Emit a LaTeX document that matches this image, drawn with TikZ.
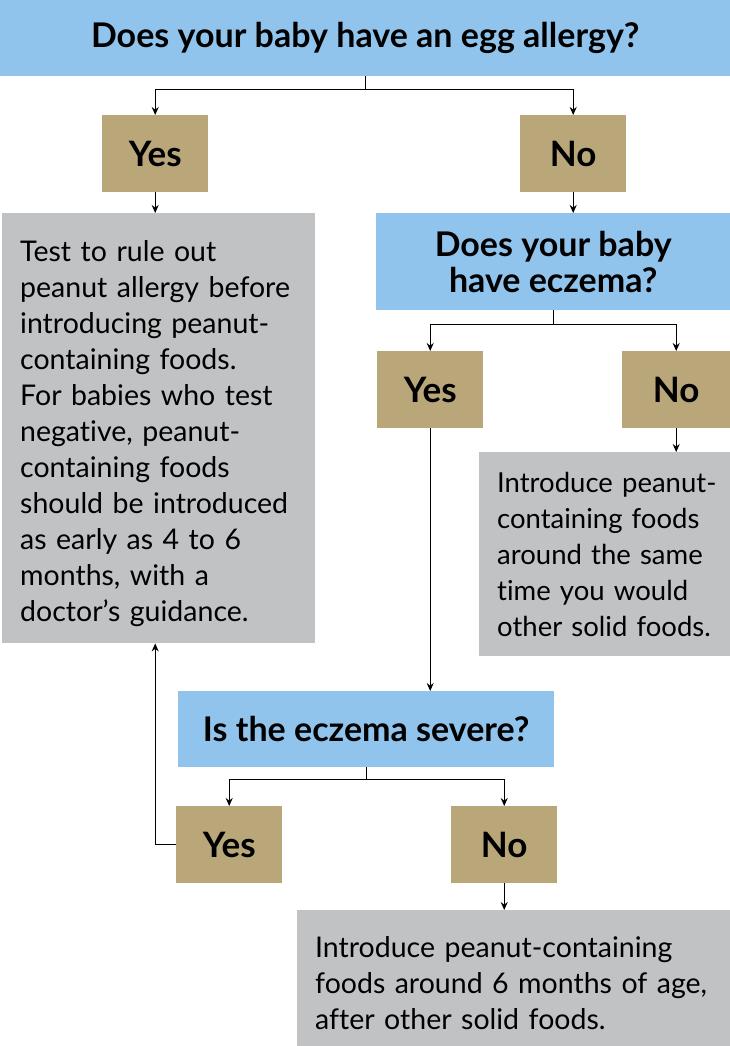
\documentclass[tikz,border=0pt]{standalone}
\usepackage{fontspec}
\setmainfont{Lato}[Ligatures=NoCommon]
\usetikzlibrary{arrows.meta}
\definecolor{askblue}{RGB}{144,196,236}
\definecolor{answertan}{RGB}{185,167,122}
\definecolor{adviceGrey}{RGB}{193,194,196}

\begin{document}
\begin{tikzpicture}[x=1pt,y=-1pt,
    question/.style={fill=askblue, inner sep=0pt, align=center,
        font=\fontsize{34}{36}\selectfont\bfseries},
    answer/.style={fill=answertan, inner sep=0pt, minimum width=106pt,
        minimum height=77pt, font=\fontsize{35}{36}\selectfont\bfseries},
    advice/.style={fill=adviceGrey, inner xsep=0pt, inner ysep=0pt, align=left,
        execute at begin node={\leftskip=18pt\relax}},
    link/.style={line width=1.1pt, -{Stealth[length=8pt,width=7pt]}}]

\useasboundingbox (0,0) rectangle (730,1046);

% Questions
\node[question, minimum width=730pt, minimum height=76pt, anchor=north west]
    (egg) at (0,0) {Does your baby have an egg allergy?};
\node[question, minimum width=354pt, minimum height=97pt, anchor=north west]
    (eczema) at (376,213) {Does your baby\\have eczema?};
\node[question, minimum width=376pt, minimum height=76pt, anchor=north west]
    (severe) at (178,691) {Is the eczema severe?};

% Answers
\node[answer, anchor=north west] (eggyes) at (102,115) {Yes};
\node[answer, anchor=north west] (eggno) at (520,115) {No};
\node[answer, anchor=north west] (eczyes) at (377,351) {Yes};
\node[answer, anchor=north west, minimum width=108pt] (eczno) at (622,351) {No};
\node[answer, anchor=north west] (sevyes) at (176,806) {Yes};
\node[answer, anchor=north west] (sevno) at (451,806) {No};

% Advice
\node[advice, text width=313pt, minimum height=430pt, anchor=north west,
    font=\fontsize{28.5}{36}\selectfont]
    (testfirst) at (2,213) {\rule{0pt}{31pt}Test to rule out\\peanut allergy before\\introducing peanut-\\containing foods.\\For babies who test\\negative, peanut-\\containing foods\\should be introduced\\as early as 4 to 6\\months, with a\\doctor’s guidance.};
\node[advice, text width=251pt, minimum height=204pt, anchor=north west,
    font=\fontsize{27.5}{36}\selectfont]
    (sametime) at (479,452) {Introduce peanut-\\containing foods\\around the same\\time you would\\other solid foods.};
\node[advice, text width=433pt, minimum height=136pt, anchor=north west,
    font=\fontsize{28.5}{36}\selectfont]
    (sixmonths) at (297,910) {\rule{0pt}{31pt}Introduce peanut-containing\\foods around 6 months of age,\\after other solid foods.};

% Connectors
\draw[link] (egg.south) -- ++(0,13) -| (eggyes.north);
\draw[link] (egg.south) -- ++(0,13) -| (eggno.north);
\draw[link] (eggyes.south) -- (eggyes.south |- testfirst.north);
\draw[link] (eggno.south) -- (eggno.south |- eczema.north);
\draw[link] (eczema.south) -- ++(0,14) -| (eczyes.north);
\draw[link] (eczema.south) -- ++(0,14) -| (eczno.north);
\draw[link] (eczno.south) -- (eczno.south |- sametime.north);
\draw[link] (eczyes.south) -- (eczyes.south |- severe.north);
\draw[link] (severe.south) -- ++(0,12) -| (sevyes.north);
\draw[link] (severe.south) -- ++(0,12) -| (sevno.north);
\draw[link] (sevno.south) -- (sevno.south |- sixmonths.north);
\draw[link] (sevyes.west) -| (testfirst.south -| eggyes.south);

\end{tikzpicture}
\end{document}
